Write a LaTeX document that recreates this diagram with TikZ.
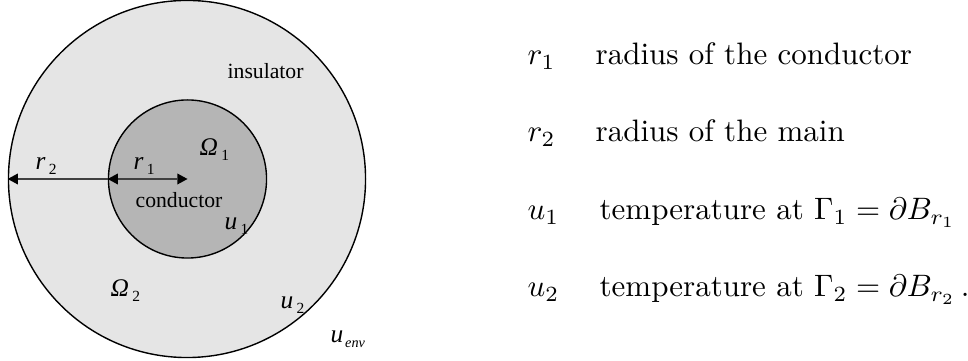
\documentclass[tikz,border=0pt]{standalone}
\usepackage{fontspec}
\newfontfamily\tnr{Liberation Serif}
\usetikzlibrary{arrows.meta}
\newcommand\wsub[2]{#1\kern1.1pt\raisebox{-1.3pt}{\fontsize{5}{5}\selectfont\upshape #2}}
\begin{document}
\begin{tikzpicture}[x=0.3226pt,y=-0.3226pt,
  disc/.style={circle,draw=black,line width=0.45pt,inner sep=0pt},
  tip/.tip={Triangle[length=3.3pt,width=3.6pt,fill=black,line width=0pt]},
  dimarrow/.style={line width=0.45pt,draw=black!75,tip-},
  dimarrowboth/.style={line width=0.45pt,draw=black!75,tip-tip},
  wlabel/.style={anchor=base west,inner sep=0pt,font=\tnr\fontsize{7}{8}\selectfont},
  mlabel/.style={anchor=base west,inner sep=0pt,font=\tnr\itshape\fontsize{8.2}{9}\selectfont},
  rtext/.style={anchor=base west,inner sep=0pt,font=\fontsize{10}{12}\selectfont}]
\useasboundingbox (0,0) rectangle (968,361);
\node[disc,fill=black!10,minimum size=115.2pt] (outer) at (187,179) {};
\node[disc,fill=black!29,minimum size=51.0pt] (inner) at (187.5,179) {};
\coordinate (c) at (187.5,179);
\draw[dimarrow] (outer.west) -- (inner.west);
\draw[dimarrowboth] (inner.west) -- (c);
% left labels
\node[wlabel] (ins) at (227,79) {insulator};
\node[wlabel] (cond) at (135,208) {conductor};
\node[mlabel] (om1) at (199,156) {\wsub{Ω}{1}};
\node[mlabel] (om2) at (110,297) {\wsub{Ω}{2}};
\node[mlabel] (lr2) at (35,170) {\wsub{r}{2}};
\node[mlabel] (lr1) at (133,170) {\wsub{r}{1}};
\node[mlabel] (lu1) at (224,230) {\wsub{u}{1}};
\node[mlabel] (lu2) at (280,309) {\wsub{u}{2}};
\node[mlabel] (luenv) at (330,343) {u\kern0.6pt\raisebox{-1.3pt}{\fontsize{4.6}{5}\selectfont env}};
% right legend
\node[rtext] (k1) at (527,65) {$r_1$};
\node[rtext] (d1) at (595,65) {radius of the conductor};
\node[rtext] (k2) at (527,142) {$r_2$};
\node[rtext] (d2) at (595,142) {radius of the main};
\node[rtext] (k3) at (527,220) {$u_1$};
\node[rtext] (d3) at (599,220) {temperature at $\Gamma_1=\partial B_{r_1}$};
\node[rtext] (k4) at (527,297) {$u_2$};
\node[rtext] (d4) at (599,297) {temperature at $\Gamma_2=\partial B_{r_2}\,.$};
\end{tikzpicture}
\end{document}
